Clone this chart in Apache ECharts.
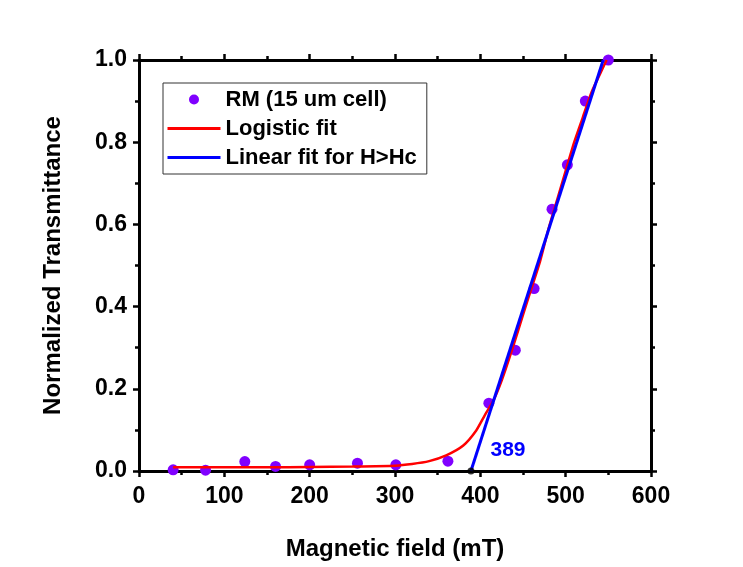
<!DOCTYPE html>
<html>
<head>
<meta charset="utf-8">
<script src="https://cdn.jsdelivr.net/npm/echarts@6/dist/echarts.min.js"></script>
<style>
html,body{margin:0;padding:0;background:#ffffff;}
#chart{width:743px;height:567px;}
</style>
</head>
<body>
<div id="chart"></div>
<script>
// Measured data (RM, 15 um cell)
var fieldRM = [40, 78, 124, 160, 200, 256, 301, 362, 410, 441, 463, 484, 502, 523, 550];
var transRM = [0.003, 0.002, 0.023, 0.011, 0.015, 0.019, 0.015, 0.024, 0.165, 0.294, 0.444, 0.637, 0.745, 0.900, 1.000];

// Logistic fit curve
var fieldLogistic = [40, 100, 150, 200, 250, 300, 320, 340, 360, 380, 395, 405, 415, 425, 438, 450, 460, 470, 480, 490, 500, 510, 520, 530, 540, 548];
var transLogistic = [0.009, 0.009, 0.009, 0.010, 0.011, 0.013, 0.017, 0.024, 0.038, 0.062, 0.098, 0.135, 0.170, 0.220, 0.300, 0.380, 0.445, 0.510, 0.590, 0.660, 0.730, 0.800, 0.860, 0.920, 0.965, 1.000];

// Linear fit for H > Hc
var fieldLinear = [389, 544];
var transLinear = [0.0, 1.0];

// Critical field
var hcField = [389];
var hcTrans = [0.0];

var xTicks = {min: 0, max: 600, interval: 100};
var yTicks = {min: 0, max: 1.0, interval: 0.2};

function zip(a, b) { return a.map(function (v, i) { return [v, b[i]]; }); }

var FONT = '"Liberation Sans", Arial, sans-serif';
var axisLineStyle = {color: '#000', width: 3};
var tickStyle = {color: '#000', width: 2.5};

var chart = echarts.init(document.getElementById('chart'));
chart.setOption({
  backgroundColor: '#ffffff',
  animation: false,
  grid: {left: 139, right: 92, top: 60, bottom: 96, containLabel: false},
  legend: {
    left: 163, top: 83,
    orient: 'vertical',
    backgroundColor: '#ffffff',
    borderColor: '#333',
    borderWidth: 1,
    padding: [4, 10, 4, 3],
    itemGap: 4,
    itemWidth: 53,
    itemHeight: 10,
    textStyle: {fontFamily: FONT, fontWeight: 'bold', fontSize: 22, lineHeight: 25, color: '#000'},
    data: [
      {name: 'RM (15 um cell)'},
      {name: 'Logistic fit', itemStyle: {opacity: 0}, lineStyle: {color: '#ff0000', width: 3}},
      {name: 'Linear fit for H>Hc', itemStyle: {opacity: 0}, lineStyle: {color: '#0000ff', width: 3}}
    ]
  },
  xAxis: [{
    type: 'value', position: 'bottom',
    min: xTicks.min, max: xTicks.max, interval: xTicks.interval,
    name: 'Magnetic field (mT)', nameLocation: 'middle', nameGap: 66,
    nameTextStyle: {fontFamily: FONT, fontWeight: 'bold', fontSize: 24, color: '#000'},
    axisLine: {show: true, onZero: false, lineStyle: axisLineStyle},
    axisTick: {show: true, inside: false, length: 6, lineStyle: tickStyle},
    minorTick: {show: true, splitNumber: 2, length: 4, lineStyle: tickStyle},
    splitLine: {show: false},
    axisLabel: {fontFamily: FONT, fontWeight: 'bold', fontSize: 23, color: '#000', margin: 14}
  }, {
    type: 'value', position: 'top',
    min: xTicks.min, max: xTicks.max, interval: xTicks.interval,
    axisLine: {show: true, onZero: false, lineStyle: axisLineStyle},
    axisTick: {show: true, inside: false, length: 6, lineStyle: tickStyle},
    minorTick: {show: true, splitNumber: 2, length: 4, lineStyle: tickStyle},
    splitLine: {show: false},
    axisLabel: {show: false}
  }],
  yAxis: [{
    type: 'value', position: 'left',
    min: yTicks.min, max: yTicks.max, interval: yTicks.interval,
    name: 'Normalized Transmittance', nameLocation: 'middle', nameGap: 74,
    nameTextStyle: {fontFamily: FONT, fontWeight: 'bold', fontSize: 24, color: '#000'},
    axisLine: {show: true, onZero: false, lineStyle: axisLineStyle},
    axisTick: {show: true, inside: false, length: 6, lineStyle: tickStyle},
    minorTick: {show: true, splitNumber: 2, length: 4, lineStyle: tickStyle},
    splitLine: {show: false},
    axisLabel: {fontFamily: FONT, fontWeight: 'bold', fontSize: 23, color: '#000', margin: 12,
      formatter: function (v) { return v.toFixed(1); }}
  }, {
    type: 'value', position: 'right',
    min: yTicks.min, max: yTicks.max, interval: yTicks.interval,
    axisLine: {show: true, onZero: false, lineStyle: axisLineStyle},
    axisTick: {show: true, inside: false, length: 6, lineStyle: tickStyle},
    minorTick: {show: true, splitNumber: 2, length: 4, lineStyle: tickStyle},
    splitLine: {show: false},
    axisLabel: {show: false}
  }],
  series: [{
    name: 'Logistic fit', type: 'line',
    xAxisIndex: 0, yAxisIndex: 0,
    data: zip(fieldLogistic, transLogistic),
    smooth: 0.2, symbol: 'none',
    lineStyle: {color: '#ff0000', width: 2.5},
    itemStyle: {color: '#ff0000'},
    z: 3
  }, {
    name: 'Linear fit for H>Hc', type: 'line',
    xAxisIndex: 0, yAxisIndex: 0,
    data: zip(fieldLinear, transLinear),
    symbol: 'none',
    lineStyle: {color: '#0000ff', width: 3},
    itemStyle: {color: '#0000ff'},
    z: 4
  }, {
    name: 'RM (15 um cell)', type: 'scatter',
    xAxisIndex: 0, yAxisIndex: 0,
    data: zip(fieldRM, transRM),
    symbol: 'circle', symbolSize: 11,
    itemStyle: {color: '#8000ff', opacity: 1},
    z: 2
  }, {
    name: 'Hc', type: 'scatter',
    xAxisIndex: 0, yAxisIndex: 0,
    data: zip(hcField, hcTrans),
    symbol: 'circle', symbolSize: 7,
    itemStyle: {color: '#000'},
    label: {
      show: true,
      position: [23, -17],
      align: 'left', verticalAlign: 'middle',
      formatter: function (p) { return String(p.value[0]); },
      fontFamily: FONT, fontWeight: 'bold', fontSize: 21, color: '#0000ff',
      textBorderWidth: 0, opacity: 1
    },
    z: 5
  }]
});
</script>
</body>
</html>
